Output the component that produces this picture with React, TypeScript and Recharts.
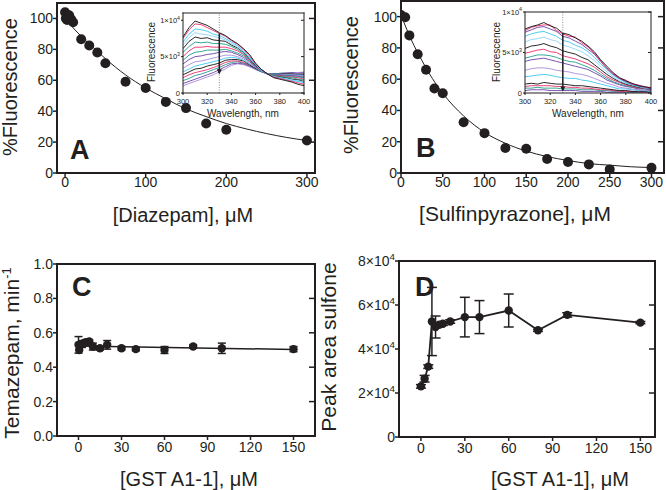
import React from "react";
import {
  ComposedChart,
  Scatter,
  Line,
  XAxis,
  YAxis,
  ErrorBar,
  ReferenceLine,
  ReferenceDot,
} from "recharts";

const ink = "#231f20";
const font = "'Liberation Sans', Arial, Helvetica, sans-serif";

// A: diazepam titration
const diazepamConc = [0, 1, 2.5, 5, 7.5, 10, 20, 30, 40, 50, 75, 100, 125, 150, 175, 200, 300];
const diazepamFluor = [104, 100, 99, 102, 99.5, 97.5, 86.5, 82.5, 78, 71, 59, 55, 46, 42, 32, 28, 21];
const diazepamFitConc = [0, 12.5, 25, 37.5, 50, 75, 100, 125, 150, 175, 200, 225, 250, 275, 300];
const diazepamFitFluor = [100, 92.5, 86, 80, 74, 63.5, 55, 48, 41.5, 36.5, 32, 28.5, 25.5, 23, 21];

// B: sulfinpyrazone titration
const sulfinConc = [0, 5, 10, 20, 30, 40, 50, 75, 100, 125, 150, 175, 200, 225, 250, 300];
const sulfinFluor = [101, 99.6, 88, 76, 66, 54, 51, 32.5, 25.5, 16, 15.5, 9, 7, 5.5, 2.3, 3.3];
const sulfinFitConc = [0, 12.5, 25, 37.5, 50, 75, 100, 125, 150, 175, 200, 225, 250, 275, 300];
const sulfinFitFluor = [101, 85, 72, 60.5, 51, 36.5, 26, 19, 14, 10.5, 8, 6, 5, 4, 3.5];

const fluorTicks = [0, 20, 40, 60, 80, 100];
const concTicksA = [0, 100, 200, 300];
const concTicksB = [0, 50, 100, 150, 200, 250, 300];

// C: temazepam rate vs GST
const gstConcC = [0, 0.5, 2.5, 5, 7.5, 10, 15, 20, 30, 40, 60, 80, 100, 150];
const temazepamRate = [0.53, 0.5, 0.535, 0.545, 0.55, 0.52, 0.51, 0.53, 0.51, 0.505, 0.5, 0.52, 0.51, 0.505];
const temazepamErr = [0.048, 0, 0.02, 0.015, 0.01, 0.02, 0.01, 0.025, 0.01, 0.01, 0.02, 0.01, 0.03, 0.015];
const temazepamFitConc = [0, 150];
const temazepamFitRate = [0.523, 0.503];
const rateTicks = [0, 0.2, 0.4, 0.6, 0.8, 1.0];

// D: sulfone peak area vs GST
const gstConcD = [0, 2.5, 5, 7.5, 10, 12.5, 15, 20, 30, 40, 60, 80, 100, 150];
const sulfoneArea = [23000, 26500, 32000, 52500, 50000, 51000, 51500, 52500, 54500, 54500, 57500, 48500, 55500, 52000];
const sulfoneErr = [800, 1500, 800, 15500, 5000, 800, 800, 800, 9000, 7500, 7500, 500, 1000, 500];
const sulfoneTicks = [0, 20000, 40000, 60000, 80000];
const sulfoneTickLabels = ["0", "2×10^4", "4×10^4", "6×10^4", "8×10^4"];
const gstTicks = [0, 30, 60, 90, 120, 150];

// insets: emission spectra (fluorescence in units of 10^3)
const specWavelength = [300, 305, 310, 315, 320, 325, 330, 335, 340, 345, 350, 355, 360, 365, 370, 375, 380, 385, 390, 395, 400];
const specTicks = [300, 320, 340, 360, 380, 400];
const specYTicks = [0, 5, 10];
const specYLabels = ["0", "5×10^3", "1×10^4"];

const specDiazepam = [
  [7.7, 9.0, 9.9, 9.6, 9.3, 8.8, 8.3, 7.9, 7.3, 6.8, 6.1, 5.3, 4.1, 3.2, 2.6, 2.1, 1.9, 1.7, 1.5, 1.2, 1.0],
  [7.5, 8.7, 9.5, 9.4, 9.0, 8.6, 8.2, 7.8, 7.2, 6.7, 6.0, 5.1, 4.0, 3.2, 2.6, 2.2, 2.0, 1.8, 1.6, 1.4, 1.2],
  [7.0, 8.1, 8.8, 8.7, 8.5, 8.1, 7.9, 7.5, 7.0, 6.5, 5.8, 4.9, 3.9, 3.1, 2.6, 2.2, 2.1, 1.9, 1.7, 1.6, 1.4],
  [6.6, 7.6, 8.3, 8.1, 8.0, 7.8, 7.6, 7.3, 6.8, 6.3, 5.7, 4.8, 3.9, 3.1, 2.6, 2.3, 2.1, 2.0, 1.8, 1.7, 1.5],
  [6.1, 7.1, 7.7, 7.5, 7.6, 7.3, 7.2, 7.1, 6.6, 6.2, 5.6, 4.7, 3.8, 3.2, 2.6, 2.3, 2.2, 2.1, 1.9, 1.8, 1.6],
  [5.6, 6.4, 7.0, 6.9, 7.0, 6.8, 6.8, 6.7, 6.4, 6.0, 5.4, 4.6, 3.8, 3.1, 2.6, 2.4, 2.3, 2.2, 2.1, 1.9, 1.8],
  [5.0, 5.8, 6.3, 6.3, 6.4, 6.3, 6.3, 6.3, 6.1, 5.8, 5.3, 4.5, 3.7, 3.1, 2.6, 2.4, 2.4, 2.3, 2.2, 2.1, 1.9],
  [4.5, 5.2, 5.6, 5.7, 5.9, 5.9, 5.9, 6.0, 5.8, 5.5, 5.1, 4.4, 3.7, 3.1, 2.6, 2.5, 2.4, 2.4, 2.3, 2.2, 2.1],
  [4.0, 4.6, 5.0, 5.1, 5.3, 5.4, 5.6, 5.7, 5.6, 5.3, 4.9, 4.3, 3.6, 3.1, 2.6, 2.5, 2.5, 2.4, 2.4, 2.3, 2.2],
  [3.4, 3.9, 4.3, 4.4, 4.6, 4.8, 5.0, 5.2, 5.2, 5.0, 4.7, 4.1, 3.5, 3.0, 2.6, 2.5, 2.5, 2.5, 2.5, 2.4, 2.3],
  [2.9, 3.3, 3.7, 3.9, 4.1, 4.3, 4.5, 4.8, 4.9, 4.8, 4.5, 4.0, 3.5, 3.0, 2.6, 2.6, 2.6, 2.5, 2.5, 2.5, 2.4],
  [2.5, 2.9, 3.3, 3.4, 3.7, 3.9, 4.1, 4.5, 4.6, 4.6, 4.4, 3.9, 3.4, 3.0, 2.6, 2.6, 2.6, 2.6, 2.6, 2.5, 2.5],
  [2.1, 2.5, 2.8, 3.0, 3.2, 3.5, 3.8, 4.2, 4.4, 4.4, 4.2, 3.8, 3.4, 3.0, 2.6, 2.6, 2.6, 2.6, 2.6, 2.6, 2.6],
  [1.7, 2.0, 2.4, 2.6, 2.9, 3.2, 3.5, 3.9, 4.2, 4.3, 4.1, 3.8, 3.3, 2.9, 2.6, 2.6, 2.7, 2.7, 2.7, 2.6, 2.7],
  [1.3, 1.6, 1.9, 2.2, 2.5, 2.8, 3.2, 3.6, 4.0, 4.1, 4.0, 3.7, 3.3, 2.9, 2.6, 2.6, 2.7, 2.7, 2.8, 2.7, 2.8],
  [1.0, 1.3, 1.6, 1.9, 2.2, 2.5, 2.9, 3.3, 3.8, 4.0, 3.9, 3.6, 3.2, 2.9, 2.6, 2.6, 2.7, 2.8, 2.8, 2.8, 2.9],
];
const specDiazepamColors = [
  "#111111", "#ec2d6a", "#3cc6ee", "#8fd3f5", "#111111", "#1f9d8b", "#ec2d6a", "#1f9d8b",
  "#6b3fa8", "#a98bd9", "#3cc6ee", "#111111", "#ec2d6a", "#1f9d8b", "#6b3fa8", "#a98bd9",
];

const specSulfin = [
  [7.9, 8.2, 8.4, 8.7, 8.3, 8.0, 7.4, 7.2, 6.8, 6.4, 5.8, 5.1, 4.1, 3.3, 2.5, 1.9, 1.5, 1.2, 0.9, 0.8, 0.6],
  [7.7, 8.1, 8.3, 8.4, 8.4, 7.7, 7.3, 7.0, 6.9, 6.2, 5.7, 4.9, 4.0, 3.1, 2.4, 1.8, 1.6, 1.1, 1.0, 0.7, 0.7],
  [7.5, 7.8, 8.1, 8.2, 7.9, 7.6, 7.0, 6.8, 6.4, 6.0, 5.4, 4.8, 3.9, 3.0, 2.3, 1.8, 1.4, 1.1, 0.9, 0.7, 0.5],
  [7.0, 7.3, 7.5, 7.6, 7.3, 7.0, 6.5, 6.3, 5.9, 5.6, 5.1, 4.4, 3.6, 2.9, 2.2, 1.7, 1.3, 1.0, 0.8, 0.7, 0.5],
  [6.3, 6.6, 6.7, 6.9, 6.6, 6.4, 5.9, 5.7, 5.4, 5.1, 4.6, 4.0, 3.3, 2.6, 2.0, 1.5, 1.2, 1.0, 0.8, 0.6, 0.5],
  [5.5, 5.8, 5.9, 6.1, 5.8, 5.6, 5.2, 5.0, 4.8, 4.4, 4.1, 3.5, 2.9, 2.3, 1.8, 1.4, 1.1, 0.9, 0.7, 0.6, 0.5],
  [4.9, 5.1, 5.3, 5.4, 5.1, 5.0, 4.6, 4.4, 4.2, 3.9, 3.6, 3.2, 2.6, 2.0, 1.6, 1.3, 1.0, 0.8, 0.6, 0.6, 0.4],
  [4.3, 4.5, 4.7, 4.7, 4.6, 4.4, 4.1, 3.9, 3.8, 3.5, 3.2, 2.8, 2.3, 1.8, 1.4, 1.1, 0.9, 0.7, 0.6, 0.5, 0.4],
  [3.9, 4.1, 4.2, 4.3, 4.1, 3.9, 3.7, 3.5, 3.3, 3.1, 2.9, 2.5, 2.1, 1.6, 1.3, 1.0, 0.8, 0.7, 0.5, 0.5, 0.3],
  [2.8, 3.0, 3.1, 3.1, 3.0, 2.8, 2.7, 2.6, 2.4, 2.3, 2.1, 1.8, 1.5, 1.2, 1.0, 0.7, 0.6, 0.5, 0.4, 0.3, 0.3],
  [2.0, 2.1, 2.2, 2.3, 2.2, 2.0, 1.9, 1.8, 1.8, 1.6, 1.5, 1.3, 1.1, 0.9, 0.7, 0.5, 0.5, 0.4, 0.3, 0.3, 0.2],
  [1.1, 1.2, 1.1, 1.3, 1.2, 1.1, 1.1, 1.0, 0.9, 0.9, 0.8, 0.7, 0.6, 0.5, 0.4, 0.3, 0.3, 0.2, 0.2, 0.2, 0.1],
  [0.8, 0.9, 0.9, 0.9, 0.9, 0.8, 0.8, 0.7, 0.7, 0.6, 0.6, 0.5, 0.4, 0.4, 0.3, 0.2, 0.2, 0.2, 0.1, 0.1, 0.1],
  [0.6, 0.6, 0.7, 0.6, 0.6, 0.6, 0.5, 0.5, 0.5, 0.4, 0.4, 0.4, 0.3, 0.3, 0.2, 0.2, 0.1, 0.1, 0.1, 0.1, 0.1],
  [0.3, 0.4, 0.4, 0.4, 0.3, 0.3, 0.3, 0.3, 0.3, 0.2, 0.2, 0.2, 0.2, 0.1, 0.1, 0.1, 0.1, 0.1, 0.0, 0.0, 0.0],
];
const specSulfinColors = [
  "#111111", "#ec2d6a", "#6b3fa8", "#3cc6ee", "#8fd3f5", "#111111", "#ec2d6a", "#1f9d8b",
  "#6b3fa8", "#a98bd9", "#3cc6ee", "#111111", "#ec2d6a", "#1f9d8b", "#6b3fa8",
];

type Rect = { x0: number; y0: number; x1: number; y1: number };
type Pt = { x: number; y: number; err?: number };

const zip = (xs: number[], ys: number[], es?: number[]): Pt[] =>
  xs.map((x, i) => ({ x, y: ys[i], err: es ? es[i] : 0 }));

const specRows = (specs: number[][]) =>
  specWavelength.map((wl, j) => {
    const row: Record<string, number> = { x: wl };
    specs.forEach((s, i) => (row[`s${i}`] = s[j]));
    return row;
  });

function ExpTick(props: any) {
  const { x, y, payload, fs, labels, values } = props;
  const i = values.indexOf(payload.value);
  const txt: string = i >= 0 ? labels[i] : String(payload.value);
  const [base, sup] = txt.split("^");
  return (
    <text x={x} y={y} dy={fs * 0.35} textAnchor="end" fontSize={fs} fill={ink} fontFamily={font}>
      {base}
      {sup && (
        <tspan dy={-fs * 0.45} fontSize={fs * 0.7}>
          {sup}
        </tspan>
      )}
    </text>
  );
}

const dot = (r: number) => (p: any) => <circle cx={p.cx} cy={p.cy} r={r} fill={ink} />;

type FrameOpts = {
  xDomain: [number, number];
  xTicks: number[];
  yDomain: [number, number];
  yTicks: number[];
  yw: number;
  xh: number;
  fs: number;
  sw: number;
  out: number;
  inner: number;
  xGap: number;
  yGap?: number;
  yTick?: any;
  yFmt?: (v: number) => string;
};

// box frame: labelled bottom/left axes, tick-only top/right axes
function frame(o: FrameOpts) {
  const line = { stroke: ink, strokeWidth: o.sw, strokeLinecap: "square" as const };
  const tl = { stroke: ink, strokeWidth: Math.max(1, o.sw * 0.75) };
  const tick = { fontSize: o.fs, fill: ink, fontFamily: font };
  const blank = () => "";
  return [
    <XAxis key="xb" type="number" dataKey="x" domain={o.xDomain} ticks={o.xTicks} allowDataOverflow interval={0}
      height={o.xh} axisLine={line} tickLine={tl} tickSize={o.out} tickMargin={o.xGap} tick={tick} />,
    <XAxis key="xt" xAxisId="top" orientation="top" type="number" domain={o.xDomain} ticks={o.xTicks}
      allowDataOverflow interval={0} mirror axisLine={line} tickLine={tl} tickSize={o.inner} tickFormatter={blank} />,
    <YAxis key="yl" type="number" dataKey="y" domain={o.yDomain} ticks={o.yTicks} allowDataOverflow interval={0}
      width={o.yw} axisLine={line} tickLine={tl} tickSize={o.out} tickMargin={o.yGap || 0}
      tick={o.yTick || tick} tickFormatter={o.yFmt} />,
    <YAxis key="yr" yAxisId="right" orientation="right" type="number" domain={o.yDomain} ticks={o.yTicks}
      allowDataOverflow interval={0} mirror axisLine={line} tickLine={tl} tickSize={o.inner} tickFormatter={blank} />,
  ];
}

function Box({ r, yw, xh, pad, data, children }: { r: Rect; yw: number; xh: number; pad: number; data?: any[]; children: any }) {
  return (
    <div style={{ position: "absolute", left: r.x0 - yw, top: r.y0 - pad }}>
      <ComposedChart
        width={r.x1 - r.x0 + yw + pad}
        height={r.y1 - r.y0 + pad + xh}
        margin={{ top: pad, right: pad, bottom: 0, left: 0 }}
        data={data}
      >
        {children}
      </ComposedChart>
    </div>
  );
}

function SpectraInset({ r, specs, colors, yMax, arrowTop, arrowBottom }: {
  r: Rect; specs: number[][]; colors: string[]; yMax: number; arrowTop: number; arrowBottom: number;
}) {
  return (
    <Box r={r} yw={26} xh={16} pad={9} data={specRows(specs)}>
      {frame({
        xDomain: [300, 400], xTicks: specTicks, yDomain: [0, yMax], yTicks: specYTicks,
        yw: 26, xh: 16, fs: 7.5, sw: 1, out: 2, inner: 3, xGap: 3.5, yGap: 1,
        yTick: <ExpTick fs={7.5} labels={specYLabels} values={specYTicks} />,
      })}
      {specs.map((_, i) => (
        <Line key={i} dataKey={`s${i}`} type="linear" stroke={colors[i]} strokeWidth={0.9}
          dot={false} isAnimationActive={false} />
      )).reverse()}
      <ReferenceLine x={330} stroke="#8a8a8a" strokeDasharray="1 1.5" strokeWidth={1} />
      <ReferenceLine segment={[{ x: 330, y: arrowTop }, { x: 330, y: arrowBottom }]} stroke={ink} strokeWidth={1.5} />
      <ReferenceDot x={330} y={arrowBottom} r={3} isFront
        shape={(p: any) => (
          <path d={`M${p.cx - 2.5},${p.cy - 4} L${p.cx + 2.5},${p.cy - 4} L${p.cx},${p.cy + 1} Z`} fill={ink} />
        )} />
    </Box>
  );
}

const mainFrame = { yw: 50, xh: 26, fs: 14, sw: 2, out: 4, inner: 6 };
const mainPad = 14;

export default function App() {
  const rA = { x0: 57, y0: 3, x1: 315, y1: 173 };
  const rB = { x0: 401, y0: 1, x1: 664, y1: 173 };
  const rC = { x0: 57, y0: 264, x1: 315, y1: 436 };
  const rD = { x0: 399, y0: 261, x1: 655, y1: 437 };

  const title = { fontFamily: font, fill: ink };
  const vText = (x: number, y: number, size: number, content: any) => (
    <text x={x} y={y} transform={`rotate(-90 ${x} ${y})`} textAnchor="middle" fontSize={size} {...title}>
      {content}
    </text>
  );

  return (
    <div style={{ position: "absolute", left: 0, top: 0, width: 666, height: 490, overflow: "hidden", background: "#fff" }}>
      <Box r={rA} yw={mainFrame.yw} xh={mainFrame.xh} pad={mainPad}>
        {frame({ ...mainFrame, xDomain: [-10, 310], xTicks: concTicksA, yDomain: [0, 110], yTicks: fluorTicks, xGap: 0 })}
        <Line data={zip(diazepamFitConc, diazepamFitFluor)} dataKey="y" type="monotone" stroke={ink}
          strokeWidth={1} dot={false} isAnimationActive={false} />
        <Scatter data={zip(diazepamConc, diazepamFluor)} shape={dot(5)} isAnimationActive={false} />
      </Box>

      <Box r={rB} yw={mainFrame.yw} xh={mainFrame.xh} pad={mainPad}>
        {frame({ ...mainFrame, xDomain: [0, 315], xTicks: concTicksB, yDomain: [0, 110], yTicks: fluorTicks, xGap: 0 })}
        <Line data={zip(sulfinFitConc, sulfinFitFluor)} dataKey="y" type="monotone" stroke={ink}
          strokeWidth={1} dot={false} isAnimationActive={false} />
        <Scatter data={zip(sulfinConc, sulfinFluor)} shape={dot(5)} isAnimationActive={false} />
      </Box>

      <Box r={rC} yw={mainFrame.yw} xh={mainFrame.xh} pad={mainPad}>
        {frame({ ...mainFrame, xDomain: [-15, 165], xTicks: gstTicks, yDomain: [0, 1], yTicks: rateTicks, xGap: 2,
          yFmt: (v: number) => v.toFixed(1) })}
        <Line data={zip(temazepamFitConc, temazepamFitRate)} dataKey="y" type="linear" stroke={ink}
          strokeWidth={1.5} dot={false} isAnimationActive={false} />
        <Scatter data={zip(gstConcC, temazepamRate, temazepamErr)} shape={dot(4.2)} isAnimationActive={false}>
          <ErrorBar dataKey="err" direction="y" width={4} stroke={ink} strokeWidth={1.5} />
        </Scatter>
      </Box>

      <Box r={rD} yw={mainFrame.yw + 8} xh={mainFrame.xh} pad={mainPad}>
        {frame({ ...mainFrame, yw: mainFrame.yw + 8, xDomain: [-15, 160], xTicks: gstTicks, yDomain: [0, 80000],
          yTicks: sulfoneTicks, xGap: 2,
          yTick: <ExpTick fs={14} labels={sulfoneTickLabels} values={sulfoneTicks} /> })}
        <Scatter data={zip(gstConcD, sulfoneArea, sulfoneErr)} shape={dot(4.2)} line={{ stroke: ink, strokeWidth: 1.8 }}
          lineType="joint" isAnimationActive={false}>
          <ErrorBar dataKey="err" direction="y" width={5} stroke={ink} strokeWidth={1.5} />
        </Scatter>
      </Box>

      <SpectraInset r={{ x0: 183, y0: 13, x1: 304, y1: 93 }} specs={specDiazepam} colors={specDiazepamColors}
        yMax={11} arrowTop={8.2} arrowBottom={2.7} />
      <SpectraInset r={{ x0: 525, y0: 12, x1: 651, y1: 93 }} specs={specSulfin} colors={specSulfinColors}
        yMax={10} arrowTop={7.4} arrowBottom={0.3} />

      <svg width={666} height={490} style={{ position: "absolute", left: 0, top: 0, pointerEvents: "none" }}>
        {vText(17, 87, 20, "%Fluorescence")}
        {vText(358, 85, 20, "%Fluorescence")}
        {vText(19, 353, 21, (
          <>
            Temazepam, min<tspan dy={-8} fontSize={13}>-1</tspan>
          </>
        ))}
        {vText(336, 347, 21, "Peak area sulfone")}

        <text x={183} y={222} textAnchor="middle" fontSize={20} {...title}>[Diazepam], μM</text>
        <text x={515} y={221} textAnchor="middle" fontSize={21} {...title}>[Sulfinpyrazone], μM</text>
        <text x={189} y={486} textAnchor="middle" fontSize={20} {...title}>[GST A1-1], μM</text>
        <text x={560} y={486} textAnchor="middle" fontSize={20} {...title}>[GST A1-1], μM</text>

        <text x={70} y={159} fontSize={27} fontWeight="bold" {...title}>A</text>
        <text x={416} y={157} fontSize={27} fontWeight="bold" {...title}>B</text>
        <text x={72} y={296} fontSize={27} fontWeight="bold" {...title}>C</text>
        <text x={415} y={296} fontSize={27} fontWeight="bold" {...title}>D</text>

        {vText(155, 52, 10, "Fluorescence")}
        {vText(500, 52, 10, "Fluorescence")}
        <text x={243} y={117} textAnchor="middle" fontSize={10} {...title}>Wavelength, nm</text>
        <text x={588} y={117} textAnchor="middle" fontSize={10} {...title}>Wavelength, nm</text>
      </svg>
    </div>
  );
}
